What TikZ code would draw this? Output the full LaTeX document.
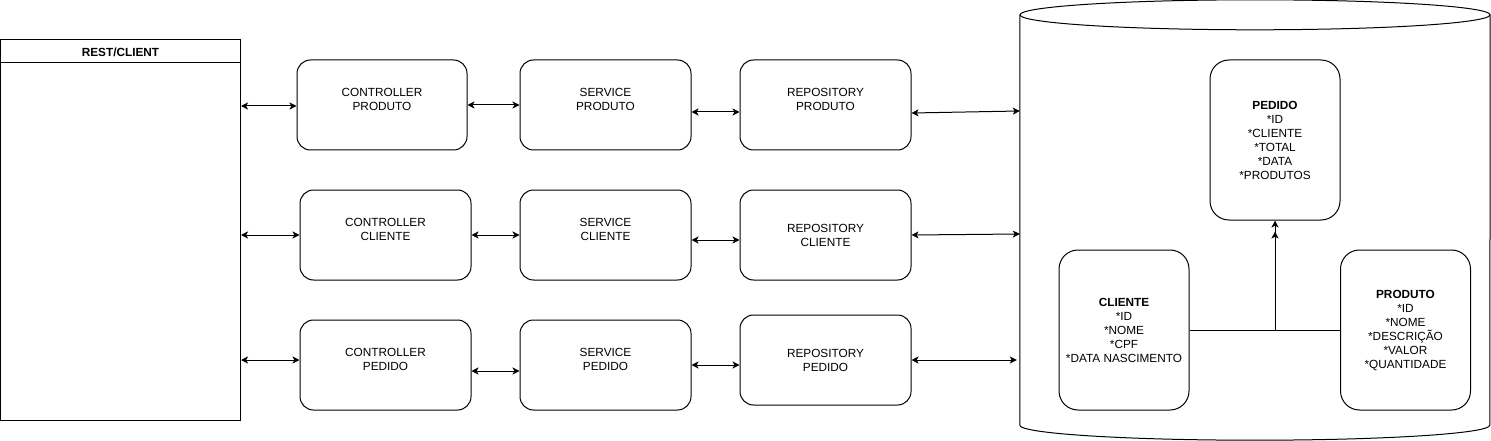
\documentclass[tikz,border=0pt]{standalone}
\usepackage{fontspec}
\setmainfont{Liberation Sans}
\usetikzlibrary{arrows.meta,calc}
\begin{document}
\begin{tikzpicture}[x=1pt,y=-1pt,
  every node/.style={font=\fontsize{11.8}{14}\selectfont},
  layerbox/.style={draw, line width=1pt, rounded corners=13.5pt, inner sep=0pt},
  entbox/.style={draw, line width=1pt, rounded corners=19pt, inner sep=0pt, minimum width=130pt, minimum height=160pt, align=center},
  txt/.style={align=center, inner sep=0pt},
  dbl/.style={line width=1pt, {Stealth[length=7pt,width=7pt,inset=1.8pt]}-{Stealth[length=7pt,width=7pt,inset=1.8pt]}},
  arr/.style={line width=1pt, -{Stealth[length=7pt,width=7pt,inset=1.8pt]}}
]
\useasboundingbox (0,0) rectangle (1491,441);

% REST/CLIENT
\node[draw, line width=1pt, minimum width=240pt, minimum height=380pt, inner sep=0pt] (rest) at (120.5,230) {};
\draw[line width=1pt] (0.5,63) -- (240.5,63);
\node[txt, font=\fontsize{11.8}{14}\selectfont\bfseries] (resttitle) at (120.5,52) {REST/CLIENT};

% layer boxes
\node[layerbox, minimum width=170pt, minimum height=90pt] (cp)  at (382,105) {};
\node[layerbox, minimum width=171pt, minimum height=90pt] (sp)  at (605.5,105) {};
\node[layerbox, minimum width=171pt, minimum height=90pt] (rp)  at (825.5,105) {};
\node[layerbox, minimum width=171pt, minimum height=90pt] (cc)  at (385.5,235) {};
\node[layerbox, minimum width=171pt, minimum height=90pt] (sc)  at (605.5,235) {};
\node[layerbox, minimum width=171pt, minimum height=90pt] (rc)  at (825.5,235) {};
\node[layerbox, minimum width=171pt, minimum height=90pt] (cpe) at (385.5,365) {};
\node[layerbox, minimum width=171pt, minimum height=90pt] (spe) at (605.5,365) {};
\node[layerbox, minimum width=171pt, minimum height=90pt] (rpe) at (825.5,360) {};

\node[txt] (cpt)  at ([yshift=6pt]cp.center)  {CONTROLLER\\PRODUTO};
\node[txt] (spt)  at ([yshift=6pt]sp.center)  {SERVICE\\PRODUTO};
\node[txt] (rpt)  at ([yshift=6pt]rp.center)  {REPOSITORY\\PRODUTO};
\node[txt] (cct)  at ([yshift=6pt]cc.center)  {CONTROLLER\\CLIENTE};
\node[txt] (sct)  at ([yshift=6pt]sc.center)  {SERVICE\\CLIENTE};
\node[txt] (rct)  at ([yshift=-0.5pt]rc.center) {REPOSITORY\\CLIENTE};
\node[txt] (cpet) at ([yshift=6pt]cpe.center) {CONTROLLER\\PEDIDO};
\node[txt] (spet) at ([yshift=6pt]spe.center) {SERVICE\\PEDIDO};
\node[txt] (rpet) at (rpe.center)             {REPOSITORY\\PEDIDO};

% database cylinder
\node[minimum width=470pt, minimum height=410pt, inner sep=0pt] (db) at (1255,220) {};
\draw[line width=1pt] (db.north west) -- (db.south west)
  arc[start angle=180, end angle=360, x radius=235pt, y radius=15pt] -- (db.north east);
\draw[line width=1pt] (db.north) ellipse[x radius=235pt, y radius=15pt];

% entities
\node[entbox] (ped) at (1275,140) {\textbf{PEDIDO}\\*ID\\*CLIENTE\\*TOTAL\\*DATA\\*PRODUTOS};
\node[entbox] (cli) at (1124,330) {\textbf{CLIENTE}\\*ID\\*NOME\\*CPF\\*DATA NASCIMENTO};
\node[entbox] (pro) at (1405.5,330) {\textbf{PRODUTO}\\*ID\\*NOME\\*DESCRIÇÃO\\*VALOR\\*QUANTIDADE};

\draw[arr] (cli.east) -| (ped.south);
\draw[arr, shorten >=11pt] (pro.west) -| (ped.south);

% connectors
\draw[dbl] ([yshift=-1pt]rest.east |- cp.west) -- ([yshift=-1pt]cp.west);
\draw[dbl] (rest.east |- cc.west) -- (cc.west);
\draw[dbl] ([yshift=5pt]rest.east |- cpe.west) -- ([yshift=5pt]cpe.west);

\draw[dbl] (cp.east) -- (sp.west);
\draw[dbl] (cc.east) -- (sc.west);
\draw[dbl] ([yshift=-6pt]cpe.east) -- ([yshift=-6pt]spe.west);

\draw[dbl] ([yshift=-7pt]sp.east) -- ([yshift=-7pt]rp.west);
\draw[dbl] ([yshift=-5pt]sc.east) -- ([yshift=-5pt]rc.west);
\draw[dbl] (spe.east) -- ([yshift=-5pt]rpe.west);

\draw[dbl] ([yshift=-8pt]rp.east) -- ($(db.west)+(0,-109)$);
\draw[dbl] (rc.east) -- ($(db.west)+(0,14)$);
\draw[dbl] (rpe.east) -- ($(db.west)+(-3,140)$);
\end{tikzpicture}
\end{document}
